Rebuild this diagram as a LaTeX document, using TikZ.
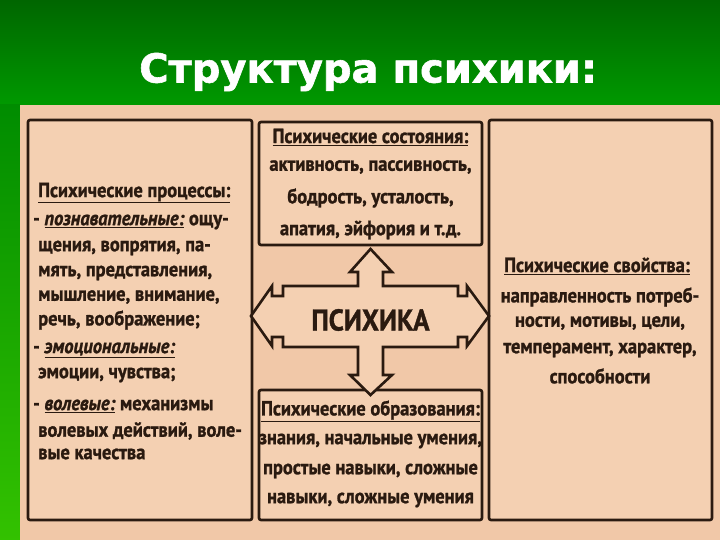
\documentclass[tikz,border=0pt]{standalone}
\usepackage{fontspec}
\setmainfont{PT Sans}
\newfontfamily\cond[FakeStretch=0.9,FakeBold=1.2]{PT Sans}
\newfontfamily\titlef[FakeBold=1.5]{DejaVu Sans}
\definecolor{ink}{HTML}{2A1A10}
\definecolor{beige}{HTML}{F1C8A8}
\definecolor{boxf}{HTML}{F4D0B2}
\tikzset{
 pbox/.style={draw=ink,line width=2.6pt,fill=boxf,rounded corners=2pt},
 ln/.style={anchor=west,inner sep=0pt,text=ink,font=\cond\bfseries\fontsize{20.5}{21}\selectfont},
 cl/.style={anchor=center,inner sep=0pt,text=ink,font=\cond\bfseries\fontsize{20.5}{21}\selectfont},
}
\newcommand{\ul}[1]{\underline{#1}}
\newcommand{\kw}[1]{\underline{\itshape #1}}
\begin{document}
\begin{tikzpicture}[x=1pt,y=-1pt]
\useasboundingbox (0,0) rectangle (720,540);
\shade[top color=green!40!black,bottom color=green!60!black] (0,0) rectangle (720,105);
\shade[top color=green!55!black,bottom color=green!70!black!80!yellow] (0,105) rectangle (20,540);
\fill[beige] (20,105) rectangle (720,540);
\node[text=white,font=\titlef\bfseries\fontsize{40}{42}\selectfont] at (368,72) (title) {Структура психики:};
% boxes
\draw[pbox] (28,120) rectangle (252,520) coordinate (lb);
\draw[pbox] (259,122) rectangle (482,245) coordinate (tb);
\draw[pbox] (259,390) rectangle (482,520) coordinate (bb);
\draw[pbox] (489,120) rectangle (712,520) coordinate (rb);
% central cross
\draw[draw=ink,line width=2.6pt,fill=boxf,line join=miter]
 (283,286) -- (358,286) -- (358,272) -- (350,272) -- (370.5,249) -- (392,272) -- (383,272) -- (383,286)
 -- (458,286) -- (458,296) -- (467,296) -- (467,286) -- (489,316) -- (467,346) -- (467,337) -- (458,337) -- (458,347)
 -- (383,347) -- (383,375) -- (392,375) -- (370.5,395) -- (350,375) -- (358,375) -- (358,347)
 -- (283,347) -- (283,337) -- (272,337) -- (272,346) -- (251,316) -- (272,286) -- (272,296) -- (283,296) -- cycle;
\node[cl,font=\cond\bfseries\fontsize{30}{31}\selectfont] (psy) at (370.5,320) {ПСИХИКА};
% left text
\node[ln] (l0) at (38,193) {\ul{Психические процессы:}};
\node[ln] (l1) at (33,222) {- \kw{познавательные:} ощу-};
\node[ln] (l2) at (38,248) {щения, вопрятия, па-};
\node[ln] (l3) at (38,273) {мять, представления,};
\node[ln] (l4) at (38,297) {мышление, внимание,};
\node[ln] (l5) at (38,320) {речь, воображение;};
\node[ln] (l6) at (33,350) {- \kw{эмоциональные:}};
\node[ln] (l7) at (38,375) {эмоции, чувства;};
\node[ln] (l8) at (33,406) {- \kw{волевые:} механизмы};
\node[ln] (l9) at (38,431) {волевых действий, воле-};
\node[ln] (l10) at (38,454) {вые качества};
% top
\node[cl] (t0) at (370.5,137) {\ul{Психические состояния:}};
\node[cl] (t1) at (370.5,167) {активность, пассивность,};
\node[cl] (t2) at (370.5,198) {бодрость, усталость,};
\node[cl] (t3) at (370.5,230) {апатия, эйфория и т.д.};
% right
\node[cl] (r0) at (597,266) {\ul{Психические свойства:}};
\node[cl] (r1) at (600,297) {направленность потреб-};
\node[cl] (r2) at (600,323) {ности, мотивы, цели,};
\node[cl] (r3) at (600,350) {темперамент, характер,};
\node[cl] (r4) at (600,376) {способности};
% bottom
\node[cl] (b0) at (370.5,411) {\ul{Психические образования:}};
\node[cl] (b1) at (370.5,441) {знания, начальные умения,};
\node[cl] (b2) at (370.5,471) {простые навыки, сложные};
\node[cl] (b3) at (370.5,500) {навыки, сложные умения};
\end{tikzpicture}
\end{document}
